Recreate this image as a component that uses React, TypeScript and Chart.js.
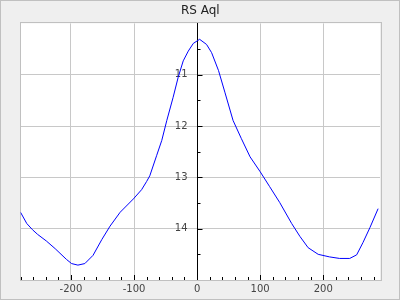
import React, { useEffect, useRef } from "react";
import { Chart, registerables } from "chart.js";

Chart.register(...registerables);

const TITLE = "RS Aql";
const phase: number[] = [
  -280, -270, -261, -253, -239, -225, -207, -199, -189, -178, -165, -151, -138, -122,
  -101, -88, -80, -75, -64, -56, -48, -38, -30, -22, -14, -6, 4, 15, 23, 34, 44, 57,
  70, 84, 100, 115, 131, 150, 163, 176, 192, 210, 226, 242, 253, 263, 274, 287,
];
const magnitude: number[] = [
  13.68, 13.9, 14.02, 14.11, 14.24, 14.39, 14.6, 14.68, 14.71, 14.68, 14.52, 14.21, 13.95, 13.68,
  13.42, 13.24, 13.08, 12.97, 12.57, 12.28, 11.89, 11.44, 11.05, 10.73, 10.54, 10.39, 10.31, 10.41,
  10.57, 10.92, 11.34, 11.89, 12.24, 12.6, 12.89, 13.18, 13.49, 13.9, 14.15, 14.37, 14.5, 14.55,
  14.58, 14.58, 14.51, 14.27, 13.98, 13.61,
];
const xTicks: number[] = [-200, -100, 0, 100, 200];
const yTicks: number[] = [11, 12, 13, 14];
const X_MIN = -280;
const X_MAX = 290;
const Y_MIN = 10;
const Y_MAX = 15;

const FONT = "'DejaVu Sans', sans-serif";

const axesPlugin = {
  id: "centerAxes",
  beforeDraw(chart: any) {
    const { ctx, chartArea } = chart;
    ctx.save();
    ctx.fillStyle = "#ffffff";
    ctx.fillRect(chartArea.left, chartArea.top, chartArea.right - chartArea.left, chartArea.bottom - chartArea.top);
    ctx.restore();
  },
  beforeDatasetsDraw(chart: any) {
    const { ctx, chartArea } = chart;
    const xs = chart.scales.x;
    const ys = chart.scales.y;
    ctx.save();
    // plot border
    ctx.strokeStyle = "#c0c0c0";
    ctx.lineWidth = 1;
    ctx.strokeRect(
      Math.round(chartArea.left) - 0.5,
      Math.round(chartArea.top) - 0.5,
      Math.round(chartArea.right - chartArea.left) + 1,
      Math.round(chartArea.bottom - chartArea.top) + 1
    );
    // y axis at x = 0
    const ax = Math.round(xs.getPixelForValue(0)) + 0.5;
    const bottom = Math.round(chartArea.bottom);
    ctx.strokeStyle = "#000";
    ctx.beginPath();
    ctx.moveTo(ax, Math.round(chartArea.top));
    ctx.lineTo(ax, bottom);
    ctx.stroke();
    // y ticks
    for (let v = Y_MIN + 0.5; v < Y_MAX; v += 0.5) {
      const py = Math.round(ys.getPixelForValue(v)) + 0.5;
      const major = Math.abs(v - Math.round(v)) < 1e-6;
      ctx.beginPath();
      ctx.moveTo(ax, py);
      ctx.lineTo(ax + (major ? 5 : 3), py);
      ctx.stroke();
    }
    // x ticks along bottom
    for (let v = -280; v <= X_MAX; v += 20) {
      const px = Math.round(xs.getPixelForValue(v)) + 0.5;
      const major = v % 100 === 0;
      ctx.beginPath();
      ctx.moveTo(px, bottom);
      ctx.lineTo(px, bottom - (major ? 5 : 3));
      ctx.stroke();
    }
    // y labels
    ctx.fillStyle = "#444";
    ctx.font = `10px ${FONT}`;
    ctx.textAlign = "right";
    ctx.textBaseline = "middle";
    for (const v of yTicks) {
      ctx.fillText(String(v), ax - 10, ys.getPixelForValue(v));
    }
    ctx.restore();
  },
};

export default function App() {
  const ref = useRef<HTMLCanvasElement>(null);
  useEffect(() => {
    document.body.style.margin = "0";
    document.body.style.background = "#efefef";
    const chart = new Chart(ref.current!, {
      type: "scatter",
      data: {
        datasets: [
          {
            data: phase.map((p, i) => ({ x: p, y: magnitude[i] })),
            showLine: true,
            borderColor: "#0000ff",
            borderWidth: 1,
            pointRadius: 0,
            tension: 0,
          },
        ],
      },
      options: {
        responsive: false,
        animation: false,
        layout: { padding: { left: 19.5, right: 19, top: 0, bottom: 0 } },
        plugins: {
          legend: { display: false },
          tooltip: { enabled: false },
          title: {
            display: true,
            text: TITLE,
            color: "#222",
            font: { family: FONT, size: 12, weight: "normal" },
            padding: { top: 3, bottom: 5 },
          },
        },
        scales: {
          x: {
            type: "linear",
            min: X_MIN,
            max: X_MAX,
            afterBuildTicks: (s: any) => {
              s.ticks = xTicks.map((v) => ({ value: v }));
            },
            afterFit: (s: any) => {
              s.height = 19;
            },
            grid: { color: "#c8c8c8", drawTicks: false },
            border: { display: false },
            ticks: {
              color: "#444",
              padding: 3,
              maxRotation: 0,
              font: { family: FONT, size: 10 },
            },
          },
          y: {
            type: "linear",
            reverse: true,
            min: Y_MIN,
            max: Y_MAX,
            afterBuildTicks: (s: any) => {
              s.ticks = yTicks.map((v) => ({ value: v }));
            },
            afterFit: (s: any) => {
              s.width = 0;
            },
            grid: { color: "#c8c8c8", drawTicks: false },
            border: { display: false },
            ticks: { display: false },
          },
        },
      },
      plugins: [axesPlugin],
    });
    return () => chart.destroy();
  }, []);
  return (
    <div style={{ width: 400, height: 300, background: "#efefef", boxSizing: "border-box", border: "1px solid #c0c0c0", position: "relative" }}>
      <canvas ref={ref} width={398} height={298} style={{ display: "block" }} />
    </div>
  );
}
